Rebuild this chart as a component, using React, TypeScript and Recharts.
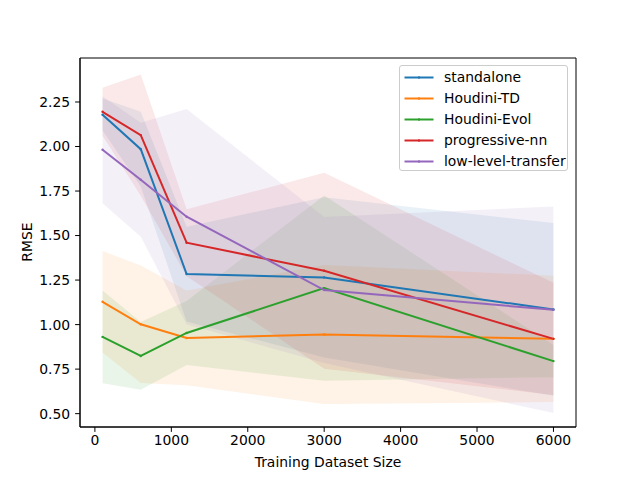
import React from "react";
import { Area, ComposedChart, Legend, Line, ReferenceArea, XAxis, YAxis } from "recharts";

// training set sizes (x positions)
const sizes = [100, 600, 1200, 3000, 6000];

// mean RMSE per method
const standaloneMean = [2.178, 1.985, 1.284, 1.265, 1.085];
const houdiniTdMean = [1.128, 1.002, 0.925, 0.944, 0.92];
const houdiniEvolMean = [0.931, 0.824, 0.953, 1.205, 0.795];
const progressiveMean = [2.195, 2.064, 1.46, 1.302, 0.92];
const lowLevelMean = [1.982, 1.813, 1.606, 1.194, 1.083];

// shaded band edges (lower / upper)
const standaloneLo = [2.09, 1.775, 1.018, 0.815, 0.6];
const standaloneHi = [2.27, 2.195, 1.55, 1.715, 1.57];
const houdiniTdLo = [0.843, 0.672, 0.659, 0.554, 0.565];
const houdiniTdHi = [1.413, 1.332, 1.191, 1.334, 1.275];
const houdiniEvolLo = [0.671, 0.634, 0.773, 0.685, 0.705];
const houdiniEvolHi = [1.191, 1.014, 1.133, 1.725, 0.885];
const progressiveLo = [2.06, 1.724, 1.272, 0.752, 0.605];
const progressiveHi = [2.33, 2.404, 1.648, 1.852, 1.235];
const lowLevelLo = [1.682, 1.493, 1.002, 0.784, 0.503];
const lowLevelHi = [2.282, 2.133, 2.21, 1.604, 1.663];

const names = ["standalone", "Houdini-TD", "Houdini-Evol", "progressive-nn", "low-level-transfer"];
const colors = ["#1f77b4", "#ff7f0e", "#2ca02c", "#d62728", "#9467bd"];

const xTicks = [0, 1000, 2000, 3000, 4000, 5000, 6000];
const yTicks = [0.5, 0.75, 1.0, 1.25, 1.5, 1.75, 2.0, 2.25];

const means = [standaloneMean, houdiniTdMean, houdiniEvolMean, progressiveMean, lowLevelMean];
const los = [standaloneLo, houdiniTdLo, houdiniEvolLo, progressiveLo, lowLevelLo];
const his = [standaloneHi, houdiniTdHi, houdiniEvolHi, progressiveHi, lowLevelHi];

const rows = sizes.map((size, i) => {
  const row: Record<string, number | number[]> = { size };
  names.forEach((_, s) => {
    row[`m${s}`] = means[s][i];
    row[`b${s}`] = [los[s][i], his[s][i]];
  });
  return row;
});

const FONT = "DejaVu Sans";
const tickStyle = { fill: "#000", fontSize: 13.9, fontFamily: FONT };

function LegendBox() {
  return (
    <div
      style={{
        width: 169,
        height: 106,
        boxSizing: "border-box",
        border: "1px solid #cccccc",
        borderRadius: 3,
        background: "rgba(255,255,255,0.8)",
        fontFamily: FONT,
        fontSize: 13.9,
        paddingTop: 1,
      }}
    >
      {names.map((n, i) => (
        <div key={n} style={{ position: "relative", height: 21.1, lineHeight: "21.1px" }}>
          <svg width={40} height={21} style={{ position: "absolute", left: 0, top: 0 }}>
            <line x1={4.5} x2={33.5} y1={10.5} y2={10.5} stroke={colors[i]} strokeWidth={2} />
            <circle cx={19} cy={10.5} r={1.2} fill={colors[i]} />
          </svg>
          <span style={{ position: "absolute", left: 44, top: 0, color: "#000", whiteSpace: "nowrap" }}>{n}</span>
        </div>
      ))}
    </div>
  );
}

export default function App() {
  return (
    <div style={{ position: "absolute", left: 0, top: 0, width: 640, height: 480, background: "#fff" }}>
      <ComposedChart width={640} height={480} data={rows} margin={{ top: 58, right: 64, bottom: 0, left: 0 }}>
        <XAxis
          dataKey="size"
          type="number"
          domain={[-195, 6295]}
          ticks={xTicks}
          allowDataOverflow
          height={53}
          tick={tickStyle}
          tickSize={4.9}
          tickMargin={3.5}
          axisLine={{ stroke: "#000" }}
          tickLine={{ stroke: "#000" }}
          label={{
            content: () => (
              <text x={328} y={467} textAnchor="middle" fontFamily={FONT} fontSize={13.9} fill="#000">
                Training Dataset Size
              </text>
            ),
          }}
        />
        <YAxis
          type="number"
          domain={[0.425, 2.497]}
          ticks={yTicks}
          allowDataOverflow
          width={80}
          tick={tickStyle}
          tickSize={4.9}
          tickMargin={4.9}
          tickFormatter={(v: number) => v.toFixed(2)}
          axisLine={{ stroke: "#000" }}
          tickLine={{ stroke: "#000" }}
          label={{
            content: () => (
              <text
                x={32}
                y={242}
                transform="rotate(-90 32 242)"
                textAnchor="middle"
                fontFamily={FONT}
                fontSize={13.9}
                fill="#000"
              >
                RMSE
              </text>
            ),
          }}
        />
        {names.map((n, s) => (
          <Area
            key={`band-${n}`}
            type="linear"
            dataKey={`b${s}`}
            fill={colors[s]}
            fillOpacity={0.1}
            stroke="none"
            isAnimationActive={false}
            activeDot={false}
            legendType="none"
          />
        ))}
        {names.map((n, s) => (
          <Line
            key={`line-${n}`}
            type="linear"
            dataKey={`m${s}`}
            name={n}
            stroke={colors[s]}
            strokeWidth={2}
            dot={{ r: 1.2, fill: colors[s], stroke: "none" }}
            activeDot={false}
            isAnimationActive={false}
          />
        ))}
        <ReferenceArea x1={-195} x2={6295} y1={0.425} y2={2.497} fill="none" stroke="#000" strokeWidth={1} />
        <Legend
          layout="vertical"
          align="center"
          verticalAlign="middle"
          content={() => <LegendBox />}
          wrapperStyle={{ left: 399, top: 65, width: 169, height: 106 }}
        />
      </ComposedChart>
    </div>
  );
}
